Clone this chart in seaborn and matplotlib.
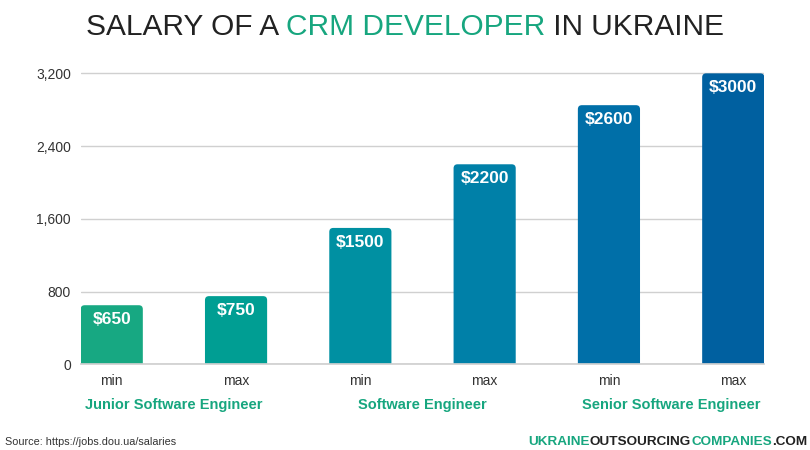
import matplotlib
matplotlib.use("Agg")
import matplotlib.pyplot as plt
import seaborn as sns
import pandas as pd
from matplotlib.patches import FancyBboxPatch

# ---- data ----
levels = ["min", "max", "min", "max", "min", "max"]
groups = ["Junior Software Engineer", "Software Engineer", "Senior Software Engineer"]
bar_values = [650, 750, 1500, 2200, 2850, 3200]
bar_labels = ["$650", "$750", "$1500", "$2200", "$2600", "$3000"]
y_ticks = [0, 800, 1600, 2400, 3200]
bar_colors = ["#17a882", "#009e93", "#0090a2", "#0080a8", "#006fa8", "#0060a0"]

GREEN = "#17a67f"
DARK = "#222222"

sns.set_theme(style="white")
plt.rcParams['font.family'] = ['Liberation Sans', 'DejaVu Sans']

df = pd.DataFrame({"pos": [str(i) for i in range(len(bar_values))],
                   "value": bar_values, "level": levels})

fig = plt.figure(figsize=(8.1, 4.5), dpi=100)
ax = fig.add_axes([0.0996, 0.1904, 0.844, 0.6567])

sns.barplot(data=df, x="pos", y="value", hue="pos", palette=bar_colors,
            legend=False, width=0.5, ax=ax, saturation=1, zorder=3)

ax.set_xlim(-0.25, len(bar_values) - 0.75)
ax.set_ylim(0, 3250)

# rounded top corners: replace patches with rounded shapes (bottom rounding clipped below 0)
fig.canvas.draw()
px_per_x = ax.transData.transform((1, 0))[0] - ax.transData.transform((0, 0))[0]
px_per_y = ax.transData.transform((0, 1))[1] - ax.transData.transform((0, 0))[1]
r_px = 4.0
for p, col in zip(list(ax.patches), bar_colors):
    x, y, w, h = p.get_x(), p.get_y(), p.get_width(), p.get_height()
    p.set_visible(False)
    rx = r_px / px_per_x
    ry = r_px / px_per_y
    aspect = px_per_x / px_per_y
    ax.add_patch(FancyBboxPatch((x, y - 2 * ry), w, h + 2 * ry,
                                boxstyle=f"round,pad=0,rounding_size={rx}",
                                mutation_aspect=aspect, fc=col, ec="none",
                                zorder=3, clip_on=True))

for i, (v, lab) in enumerate(zip(bar_values, bar_labels)):
    ax.annotate(lab, (i, v), xytext=(0, -5), textcoords="offset points",
                ha="center", va="top", color="white", fontsize=12.5,
                fontweight="bold", zorder=5)

ax.set_yticks(y_ticks)
ax.set_yticklabels([f"{t:,}" for t in y_ticks])
ax.yaxis.grid(True, color="#d0d0d0", linewidth=1, zorder=0)
ax.set_xticks(range(len(levels)))
ax.set_xticklabels(levels)
ax.tick_params(axis="both", length=0, labelsize=10, colors="#333333")
ax.tick_params(axis="y", pad=7)
ax.tick_params(axis="x", pad=7)
ax.set_xlabel("")
ax.set_ylabel("")
for s in ["top", "right", "left"]:
    ax.spines[s].set_visible(False)
ax.spines["bottom"].set_color("#d0d0d0")
ax.spines["bottom"].set_zorder(4)

# group labels
for g, name in enumerate(groups):
    xc = 2 * g + 0.5
    ax.text(xc, -40 / px_per_y / 3250 * 3250 / 1.0 if False else -0.137, name,
            transform=ax.get_xaxis_transform(),
            ha="center", va="center", color=GREEN, fontsize=10.5, fontweight="bold")

# title in pieces
renderer = fig.canvas.get_renderer()
def pieces_line(parts, y, fontsize, weight, anchor="center", x=0.5):
    texts = []
    for s, c in parts:
        t = fig.text(0, y, s, color=c, fontsize=fontsize, fontweight=weight,
                     va="baseline", ha="left")
        texts.append(t)
    widths = [t.get_window_extent(renderer).width for t in texts]
    total = sum(widths)
    W = fig.bbox.width
    start = x * W - total / 2 if anchor == "center" else x * W - total
    cur = start
    for t, w in zip(texts, widths):
        t.set_x(cur / W)
        cur += w

pieces_line([("SALARY OF A ", DARK), ("CRM DEVELOPER", GREEN), (" IN UKRAINE", DARK)],
            1 - 35 / 450, 21.5, "normal")

pieces_line([("UKRAINE", GREEN), ("OUTSOURCING", DARK), ("COMPANIES", GREEN), (".COM", DARK)],
            1 - 445 / 450, 9.7, "bold", anchor="right", x=807 / 810)

fig.text(5 / 810, 1 - 445 / 450, "Source: https://jobs.dou.ua/salaries", fontsize=7.8,
         color="#333333", va="baseline", ha="left")

fig.savefig("out.png", dpi=100)
